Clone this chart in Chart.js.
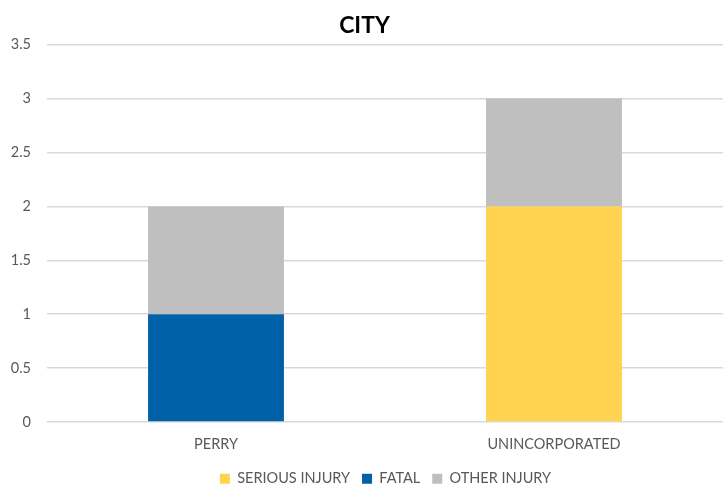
<!DOCTYPE html>
<html><head><meta charset="utf-8">
<script src="https://cdn.jsdelivr.net/npm/chart.js@4"></script>
<style>html,body{margin:0;padding:0;background:#fff}#wrap{width:723px;height:490px}</style>
</head><body><div id="wrap"><canvas id="c" width="723" height="490"></canvas></div>
<script>
const categories = ["PERRY", "UNINCORPORATED"];
const seriousInjury = [0, 2];
const fatal = [1, 0];
const otherInjury = [1, 1];
const yTicks = [0, 0.5, 1, 1.5, 2, 2.5, 3, 3.5];

const FONT = "Lato, 'Open Sans', sans-serif";

const legendShift = {
  id: 'legendShift',
  afterLayout(chart) {
    const lg = chart.legend;
    if (lg) { lg.left += 21; lg.right += 21; }
  }
};

new Chart(document.getElementById('c'), {
  type: 'bar',
  data: {
    labels: categories,
    datasets: [
      {label: 'SERIOUS INJURY', data: seriousInjury, backgroundColor: '#FFD34F'},
      {label: 'FATAL', data: fatal, backgroundColor: '#0060A8'},
      {label: 'OTHER INJURY', data: otherInjury, backgroundColor: '#BFBFBF'}
    ]
  },
  plugins: [legendShift],
  options: {
    responsive: false,
    animation: false,
    devicePixelRatio: 1,
    layout: {padding: {left: 0, right: -6, top: 8, bottom: -6}},
    datasets: {bar: {categoryPercentage: 1, barPercentage: 0.402}},
    plugins: {
      title: {display: true, text: 'CITY', color: '#000', font: {family: FONT, size: 23, weight: 'bold'}, padding: {top: 4, bottom: 5}},
      legend: {position: 'bottom', labels: {boxWidth: 10, boxHeight: 10, color: '#595959', font: {family: FONT, size: 14.5}, padding: 12}},
      tooltip: {enabled: false}
    },
    scales: {
      x: {
        stacked: true,
        grid: {display: false},
        border: {display: false},
        ticks: {color: '#595959', font: {family: FONT, size: 14.5}, padding: 6}
      },
      y: {
        stacked: true,
        min: 0, max: 3.5,
        afterBuildTicks: s => { s.ticks = yTicks.map(v => ({value: v})); },
        afterFit: s => { s.width = 47; },
        grid: {color: '#D9D9D9', lineWidth: 1.5, drawTicks: false},
        border: {display: false},
        ticks: {color: '#595959', font: {family: FONT, size: 14.5}, padding: 16, callback: v => String(v)}
      }
    }
  }
});
</script></body></html>
